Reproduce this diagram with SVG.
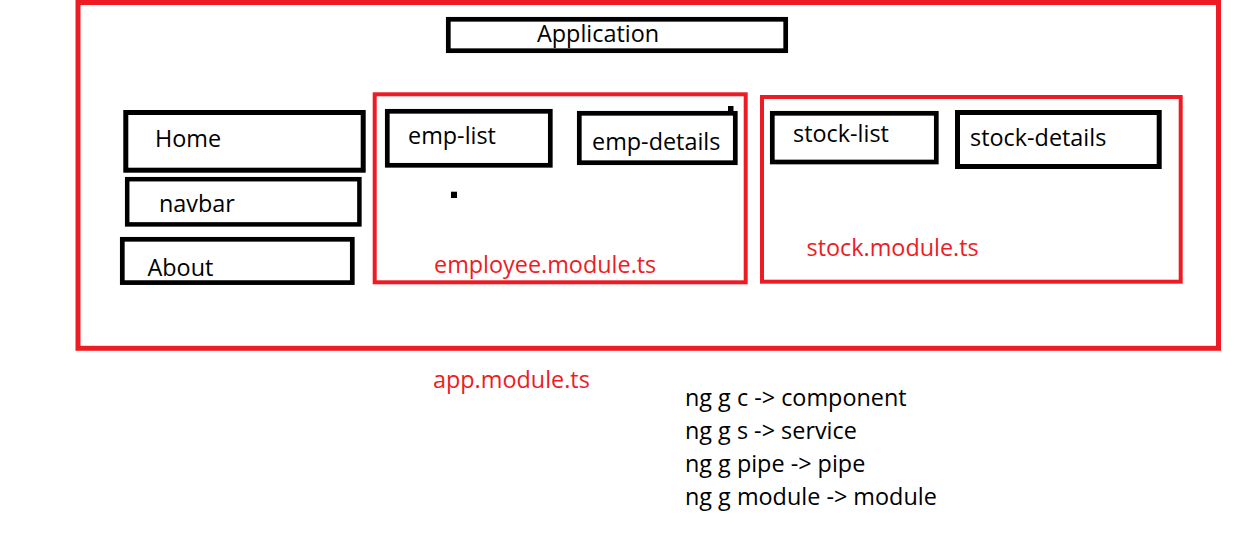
<svg xmlns="http://www.w3.org/2000/svg" width="1235" height="550" viewBox="0 0 1235 550">
  <style>
    .box { fill: none; stroke: #000; stroke-width: 4.7; }
    .mod { fill: none; stroke: #ED1C24; stroke-width: 4; }
    .lbl { font-family: "Open Sans", "Noto Sans", sans-serif; font-size: 23.4px; fill: #000; }
    .red { font-family: "Open Sans", "Noto Sans", sans-serif; font-size: 23.4px; fill: #ED1C24; }
  </style>
  <rect width="1235" height="550" fill="#fff"/>

  <!-- application module frame -->
  <g id="app-module">
    <rect class="mod" x="78" y="2.5" width="1140.5" height="345.8" style="stroke-width:5"/>
    <text class="red" x="433" y="387.5">app.module.ts</text>
  </g>

  <g id="application">
    <rect class="box" x="448.3" y="19.3" width="337.4" height="31.4"/>
    <text class="lbl" x="537" y="42">Application</text>
  </g>

  <g id="home">
    <rect class="box" x="125.8" y="112.5" width="237.4" height="57.7" style="stroke-width:5"/>
    <text class="lbl" x="155" y="146.5">Home</text>
  </g>

  <g id="navbar">
    <rect class="box" x="127.2" y="179.2" width="232.2" height="45.2" style="stroke-width:4.5"/>
    <text class="lbl" x="159" y="211.5">navbar</text>
  </g>

  <g id="about">
    <rect class="box" x="122.3" y="239.3" width="230" height="43.3"/>
    <text class="lbl" x="147.5" y="276">About</text>
  </g>

  <!-- employee feature module -->
  <g id="employee-module">
    <rect class="mod" x="374.7" y="94.3" width="371" height="188"/>
    <text class="red" x="434" y="273">employee.module.ts</text>
    <rect x="451" y="191.7" width="6" height="6.3" fill="#000"/>
  </g>

  <g id="emp-list">
    <rect class="box" x="387.3" y="111.3" width="163" height="54"/>
    <text class="lbl" x="408" y="143.5">emp-list</text>
  </g>

  <g id="emp-details">
    <rect class="box" x="579.3" y="113.3" width="156" height="49.4"/>
    <rect x="728" y="106" width="5.5" height="6" fill="#000"/>
    <text class="lbl" x="592" y="150">emp-details</text>
  </g>

  <!-- stock feature module -->
  <g id="stock-module">
    <rect class="mod" x="762" y="97" width="418.7" height="184.7"/>
    <text class="red" x="806.5" y="256">stock.module.ts</text>
  </g>

  <g id="stock-list">
    <rect class="box" x="772.3" y="113.3" width="164" height="48.7"/>
    <text class="lbl" x="793" y="141.5">stock-list</text>
  </g>

  <g id="stock-details">
    <rect class="box" x="957.5" y="112.5" width="201.7" height="54" style="stroke-width:5"/>
    <text class="lbl" x="970" y="146">stock-details</text>
  </g>

  <!-- CLI notes -->
  <g id="cli-notes" class="lbl">
    <text x="685" y="406">ng g c -&gt; component</text>
    <text x="685" y="439">ng g s -&gt; service</text>
    <text x="685" y="472">ng g pipe -&gt; pipe</text>
    <text x="685" y="505">ng g module -&gt; module</text>
  </g>

  <g id="connectors"></g>
</svg>
